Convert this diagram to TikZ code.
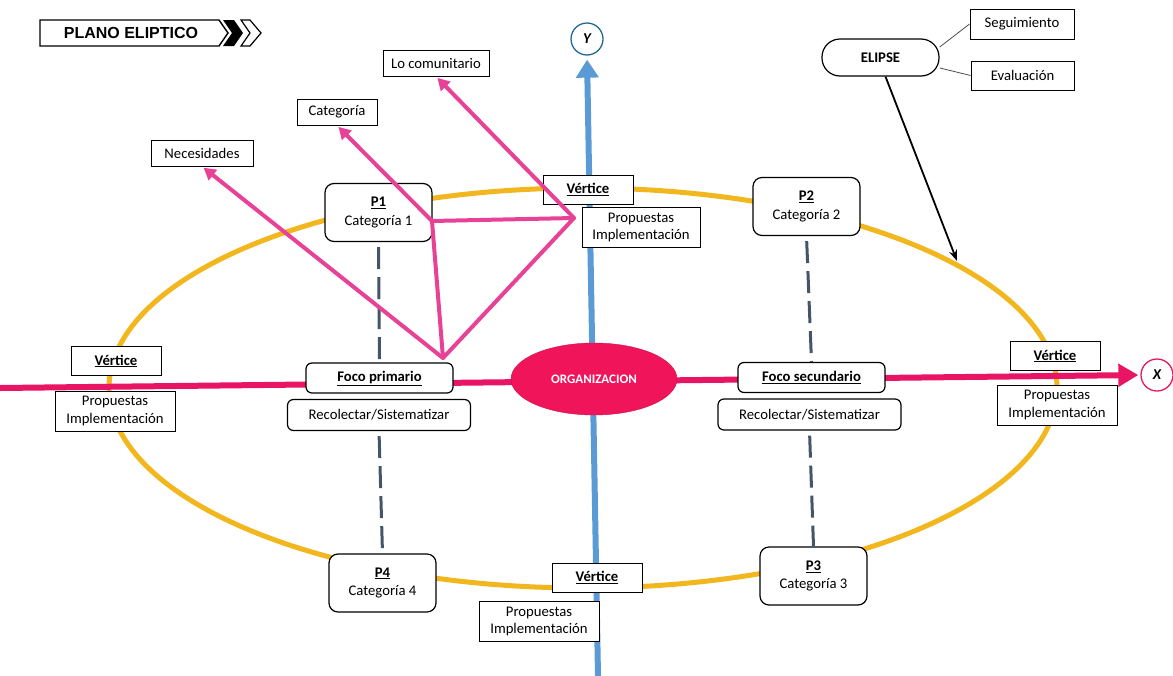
\documentclass[tikz,border=0pt]{standalone}
\usepackage{fontspec}
\setmainfont{Carlito}
\newfontfamily\headfont{Liberation Sans}
\usetikzlibrary{arrows.meta,shapes.geometric}
\definecolor{orbitgold}{RGB}{242,183,30}
\definecolor{axisblue}{RGB}{91,155,213}
\definecolor{axisred}{RGB}{232,20,100}
\definecolor{orgred}{RGB}{240,20,90}
\definecolor{linkpink}{RGB}{232,66,150}
\definecolor{dashgray}{RGB}{68,84,106}
\definecolor{ytone}{RGB}{35,105,145}
\tikzset{
  txt/.style={font=\fontsize{14.7}{17.5}\selectfont},
  box/.style={txt, draw=black, fill=white, line width=0.9pt, inner sep=2pt, align=center},
  box-round/.style={box, rounded corners=6pt, line width=1.2pt},
  box-p/.style={box-round, rounded corners=9pt, minimum width=107pt, minimum height=58pt},
  box-vert/.style={box, minimum width=90pt, minimum height=29pt},
  box-prop/.style={box, minimum width=120pt, minimum height=40pt},
  box-foco/.style={box-round, minimum width=147pt, minimum height=30pt},
  box-rec/.style={box-round, minimum width=183pt, minimum height=31pt},
  box-tag/.style={box, minimum height=26pt},
  axis-end/.style={circle, draw, line width=1.3pt, minimum size=32pt, inner sep=0pt,
    font=\fontsize{15}{15}\selectfont\bfseries\itshape},
  orbit/.style={draw=orbitgold, line width=5pt},
  axis-y/.style={axisblue, line width=6pt, -{Triangle[width=22pt,length=18pt]}},
  axis-x/.style={axisred, line width=6pt, -{Triangle[width=22pt,length=20pt]}},
  link/.style={linkpink, line width=4pt, line cap=round, line join=round},
  link-arrow/.style={link, -{Triangle[width=13pt,length=12pt]}, shorten >=2pt},
  dash-line/.style={dashgray, line width=3pt, dash pattern=on 22pt off 8pt},
  thin-link/.style={draw=black!70, line width=0.8pt}
}
\newcommand{\hd}[1]{\underline{\textbf{#1}}}

\begin{document}
\begin{tikzpicture}[x=1pt,y=-1pt]
  \useasboundingbox (0,0) rectangle (1173,675);
  % Title banner
  \draw[line width=1.4pt] (40,20) -- (219,20) -- (228,33) -- (219,46) -- (40,46) -- cycle;
  \fill (223,20) -- (234,20) -- (243,33) -- (234,46) -- (223,46) -- (232,33) -- cycle;
  \draw[line width=1.2pt] (241,20) -- (250,20) -- (261,33) -- (250,46) -- (241,46) -- (250,33) -- cycle;
  \node (title) at (131,33) {\headfont\fontsize{16}{16}\selectfont\bfseries PLANO ELIPTICO};
  % Orbit
  \draw[orbit] (583,388) ellipse [x radius=474pt, y radius=200pt];
  % Axes
  \node[axis-end, draw=ytone] (ycirc) at (587,39) {Y};
  \node[axis-end, draw=axisred] (xcirc) at (1157,375) {X};
  \coordinate (ybot) at (598,676);
  \coordinate (xleft) at (0,388);
  \draw[axis-y, shorten >=4pt] (ybot) -- (ycirc.south);
  \draw[axis-x, shorten >=2pt] (xleft) -- (xcirc.west);
  % Centre and foci
  \node[ellipse, fill=orgred, draw=orgred!85!black, minimum width=166pt, minimum height=72pt,
    font=\fontsize{13}{14}\selectfont\bfseries, text=white] (org) at (594,379) {ORGANIZACION};
  \node[box-foco] (focoA) at (379.5,378) {\hd{Foco primario}};
  \node[box-rec] (recA) at (379,415) {Recolectar/Sistematizar};
  \node[box-foco] (focoB) at (811.5,377.5) {\hd{Foco secundario}};
  \node[box-rec] (recB) at (809.5,414.5) {Recolectar/Sistematizar};
  % Vertices
  \node[box-vert] (vertL) at (116,361) {\hd{Vértice}};
  \node[box-prop] (propL) at (115,411) {Propuestas\\Implementación};
  \node[box-vert] (vertR) at (1055,356) {\hd{Vértice}};
  \node[box-prop] (propR) at (1057,405) {Propuestas\\Implementación};
  \node[box-vert] (vertT) at (588,189.5) {\hd{Vértice}};
  \node[box-prop, minimum width=118pt] (propT) at (641,227.5) {Propuestas\\Implementación};
  \node[box-vert] (vertB) at (597,577.5) {\hd{Vértice}};
  \node[box-prop] (propB) at (539,621.5) {Propuestas\\Implementación};
  % Points
  \node[box-p] (p1) at (378.5,212.5) {\hd{P1}\\[1pt]Categoría 1};
  \node[box-p] (p2) at (806.5,206.5) {\hd{P2}\\[1pt]Categoría 2};
  \node[box-p] (p3) at (813.5,576) {\hd{P3}\\[1pt]Categoría 3};
  \node[box-p] (p4) at (382.5,583) {\hd{P4}\\[1pt]Categoría 4};
  \foreach \a/\b in {p1/focoA, recA/p4, p2/focoB, recB/p3} {
    \draw[dash-line, shorten <=5pt] (\a.south) -- (\b.north);
  }
  % Categories
  \node[box-tag, minimum width=102pt] (nec) at (202,153) {Necesidades};
  \node[box-tag, minimum width=80pt] (cat) at (337,112) {Categoría};
  \node[box-tag, minimum width=106pt] (comu) at (436,63) {Lo comunitario};
  \coordinate (pkB) at (443,358);
  \coordinate (pkC) at (432,221);
  \coordinate (pkV) at (574,218);
  \draw[link] (pkB) -- (pkC) -- (pkV) -- cycle;
  \draw[link-arrow] (pkB) -- (nec.south);
  \draw[link-arrow] (pkC) -- (cat.south);
  \draw[link-arrow] (pkV) -- (comu.south);
  % Ellipse legend
  \node[box-round, rounded corners=18pt, minimum width=117pt, minimum height=37pt,
    font=\fontsize{14.7}{15}\selectfont\bfseries] (elipse) at (880.5,57.5) {ELIPSE};
  \node[box, minimum width=104pt, minimum height=30pt] (segui) at (1022,24) {Seguimiento};
  \node[box, minimum width=103pt, minimum height=29pt] (evalu) at (1022.5,75.5) {Evaluación};
  \draw[thin-link] (elipse.10) -- (segui.west);
  \draw[thin-link] (elipse.-10) -- (evalu.west);
  \coordinate (ellhit) at (957,261);
  \draw[line width=1.8pt, -{Stealth[length=11pt,width=8pt]}] ([xshift=5pt]elipse.south) -- (ellhit);
\end{tikzpicture}
\end{document}
